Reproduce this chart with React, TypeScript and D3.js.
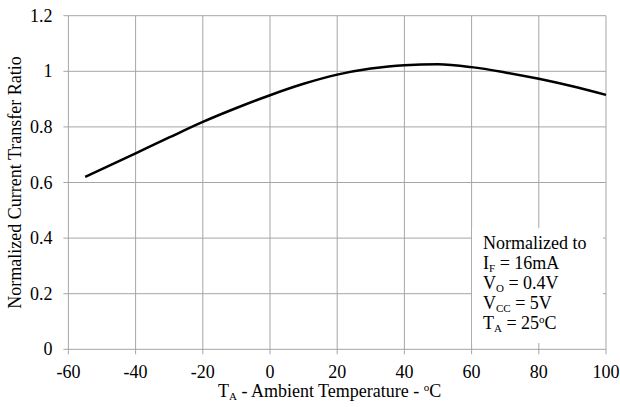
import React from "react";
import * as d3 from "d3";

const temps = [-55, -40, -30, -20, -10, 0, 10, 20, 30, 40, 50, 60, 70, 80, 90, 100];
const ratios = [0.62, 0.705, 0.762, 0.818, 0.868, 0.914, 0.955, 0.988, 1.01, 1.022, 1.025, 1.015, 0.996, 0.973, 0.946, 0.915];
const xTicks = [-60, -40, -20, 0, 20, 40, 60, 80, 100];
const yTicks = [0, 0.2, 0.4, 0.6, 0.8, 1, 1.2];

const W = 620, H = 407;
const left = 68.4, right = 606, top = 15.7, bottom = 349.3;
const font = '"Liberation Serif", "Times New Roman", Times, serif';

export default function App() {
  const x = d3.scaleLinear().domain([-60, 100]).range([left, right]);
  const y = d3.scaleLinear().domain([0, 1.2]).range([bottom, top]);
  const line = d3.line<number>().x((_, i) => x(temps[i])).y((d) => y(d)).curve(d3.curveMonotoneX);
  const grid = "#a6a6a6";
  const fs = 18;
  const sub = 11;
  return (
    <svg width={W} height={H} style={{ position: "absolute", left: 0, top: 0, background: "#fff", fontFamily: font }}>
      <g style={{ fontFamily: font }}>
        {xTicks.map((t) => (
          <line key={"x" + t} x1={x(t)} x2={x(t)} y1={top} y2={bottom + 5} stroke={grid} strokeWidth={1} />
        ))}
        {yTicks.map((t) => (
          <line key={"y" + t} x1={left - 5} x2={right} y1={y(t)} y2={y(t)} stroke={grid} strokeWidth={1} />
        ))}
        <rect x={472} y={228} width={131} height={115} fill="#fff" />
        {xTicks.map((t) => (
          <text key={"xl" + t} x={x(t)} y={bottom + 29} textAnchor="middle" fontSize={fs}>{t}</text>
        ))}
        {yTicks.map((t) => (
          <text key={"yl" + t} x={left - 16} y={y(t) + 6} textAnchor="end" fontSize={fs}>{String(t)}</text>
        ))}
        <path d={line(ratios) || ""} fill="none" stroke="#000" strokeWidth={2.5} />
        <g fontSize={fs}>
          <text x={483} y={249}>Normalized to</text>
          <text x={483} y={269}>I<tspan fontSize={sub} dy={3}>F</tspan><tspan dy={-3}> = 16mA</tspan></text>
          <text x={483} y={289}>V<tspan fontSize={sub} dy={3}>O</tspan><tspan dy={-3}> = 0.4V</tspan></text>
          <text x={483} y={309}>V<tspan fontSize={sub} dy={3}>CC</tspan><tspan dy={-3}> = 5V</tspan></text>
          <text x={483} y={329}>T<tspan fontSize={sub} dy={3}>A</tspan><tspan dy={-3}> = 25</tspan><tspan fontSize={sub} dy={-6}>o</tspan><tspan dy={6}>C</tspan></text>
        </g>
        <text x={218} y={397} fontSize={fs}>T<tspan fontSize={sub} dy={3}>A</tspan><tspan dy={-3}> - Ambient Temperature - </tspan><tspan fontSize={sub} dy={-6}>o</tspan><tspan dy={6}>C</tspan></text>
        <text transform={`translate(21, ${(top + bottom) / 2}) rotate(-90)`} textAnchor="middle" fontSize={fs}>Normalized Current Transfer Ratio</text>
      </g>
    </svg>
  );
}
